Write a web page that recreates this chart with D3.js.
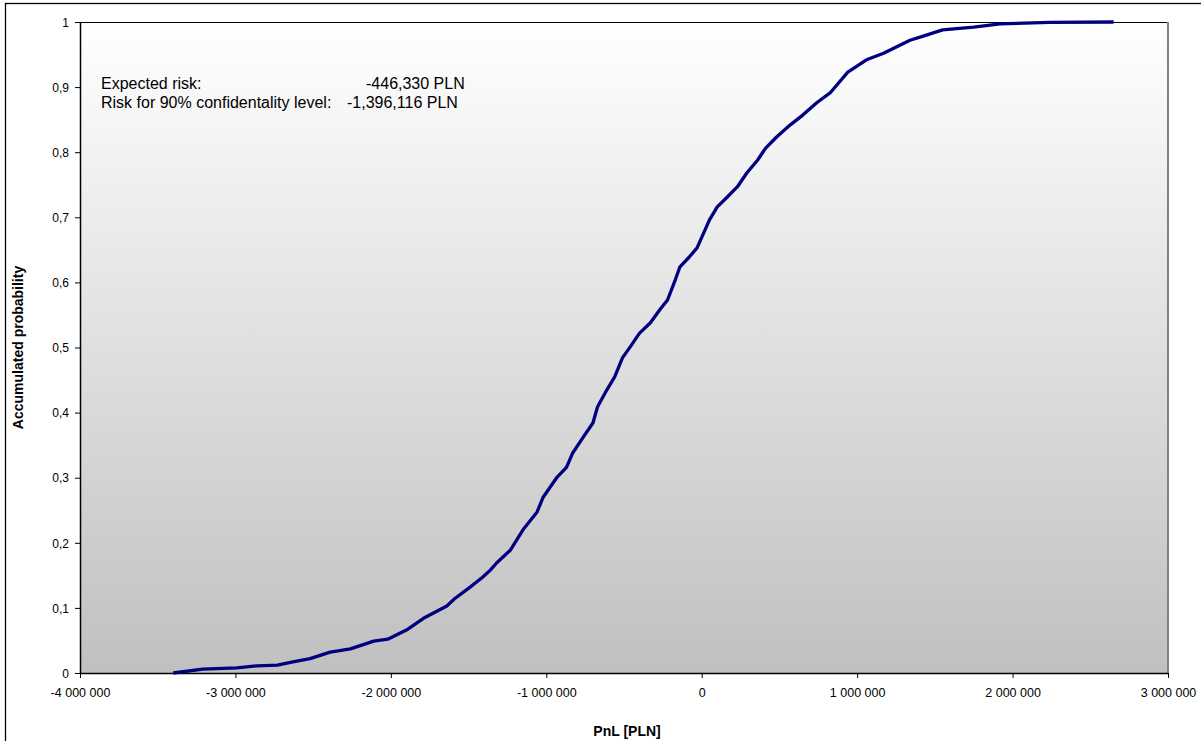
<!DOCTYPE html>
<html>
<head>
<meta charset="utf-8">
<script src="https://cdn.jsdelivr.net/npm/d3@7/dist/d3.min.js"></script>
<style>
  html, body { margin: 0; padding: 0; background: #fff; }
  svg { display: block; }
  text { font-family: "Liberation Sans", Arial, sans-serif; fill: #000; }
</style>
</head>
<body>
<svg id="chart" width="1201" height="741"></svg>
<script>
// PnL values (PLN) of the accumulated-probability curve
const pnl = [
  -3400000, -3210000, -2990000, -2860000, -2730000, -2630000, -2520000, -2390000,
  -2260000, -2110000, -2020000, -1900000, -1790000, -1640000, -1590000, -1490000,
  -1410000, -1360000, -1320000, -1230000, -1150000, -1060000, -1020000, -930000,
  -870000, -830000, -760000, -700000, -670000, -610000, -560000, -510000,
  -460000, -400000, -330000, -270000, -220000, -170000, -140000, -80000,
  -30000, 20000, 50000, 100000, 160000, 230000, 290000, 360000,
  410000, 480000, 570000, 650000, 740000, 830000, 940000, 1060000,
  1170000, 1340000, 1420000, 1550000, 1750000, 1920000, 2240000, 2650000
];
// accumulated probability at each PnL value
const prob = [
  0.000, 0.006, 0.008, 0.011, 0.012, 0.017, 0.022, 0.032,
  0.037, 0.049, 0.052, 0.066, 0.084, 0.103, 0.114, 0.132,
  0.147, 0.158, 0.169, 0.189, 0.220, 0.247, 0.270, 0.301,
  0.316, 0.338, 0.363, 0.384, 0.409, 0.435, 0.455, 0.484,
  0.501, 0.522, 0.538, 0.558, 0.573, 0.604, 0.624, 0.639,
  0.653, 0.680, 0.696, 0.716, 0.730, 0.747, 0.768, 0.788,
  0.806, 0.823, 0.842, 0.857, 0.876, 0.892, 0.923, 0.942,
  0.952, 0.972, 0.978, 0.988, 0.992, 0.997, 0.9995, 1.000
];
const xTicks = [-4000000, -3000000, -2000000, -1000000, 0, 1000000, 2000000, 3000000];
const xTickLabels = ["-4 000 000", "-3 000 000", "-2 000 000", "-1 000 000", "0", "1 000 000", "2 000 000", "3 000 000"];
const yTicks = [0, 0.1, 0.2, 0.3, 0.4, 0.5, 0.6, 0.7, 0.8, 0.9, 1];
const yTickLabels = ["0", "0,1", "0,2", "0,3", "0,4", "0,5", "0,6", "0,7", "0,8", "0,9", "1"];
const annotLabels = ["Expected risk:", "Risk for 90% confidentality level:"];
const annotValues = ["-446,330 PLN", "-1,396,116 PLN"];
const xTitle = "PnL [PLN]";
const yTitle = "Accumulated probability";

const data = pnl.map((v, i) => ({ x: v, p: prob[i] }));

const svg = d3.select("#chart");
const L = 80, R = 1168, T = 22, B = 673;

const x = d3.scaleLinear().domain([-4000000, 3000000]).range([L, R]);
const y = d3.scaleLinear().domain([0, 1]).range([B, T]);

// outer frame
svg.append("rect").attr("x", 5.5).attr("y", 3.5).attr("width", 1200).attr("height", 745)
  .attr("fill", "#fff").attr("stroke", "#000").attr("stroke-width", 1.3);

// gradient
const defs = svg.append("defs");
const grad = defs.append("linearGradient").attr("id", "bg").attr("x1", 0).attr("y1", 0).attr("x2", 0).attr("y2", 1);
grad.append("stop").attr("offset", "0%").attr("stop-color", "#ffffff");
grad.append("stop").attr("offset", "100%").attr("stop-color", "#c0c0c0");

svg.append("rect").attr("x", L).attr("y", T).attr("width", R - L).attr("height", B - T)
  .attr("fill", "url(#bg)");

// plot area border: top black, right gray
svg.append("line").attr("x1", L).attr("x2", R).attr("y1", T + 0.5).attr("y2", T + 0.5)
  .attr("stroke", "#000").attr("stroke-width", 1);
svg.append("line").attr("x1", R).attr("x2", R).attr("y1", T).attr("y2", B)
  .attr("stroke", "#808080").attr("stroke-width", 2);

// axes
const xAxis = d3.axisBottom(x).tickValues(xTicks).tickSize(5).tickSizeOuter(0)
  .tickFormat((d, i) => xTickLabels[i]);
const gx = svg.append("g").attr("transform", `translate(0,${B})`).call(xAxis);
gx.select(".domain").attr("stroke", "#000").attr("stroke-width", 1.5);
gx.selectAll(".tick line").attr("stroke", "#000");
gx.selectAll(".tick text").attr("font-size", "12.5px").attr("font-family", "Liberation Sans, Arial, sans-serif")
  .attr("fill", "#000").attr("dy", null).attr("y", 24);

const yAxis = d3.axisLeft(y).tickValues(yTicks).tickSize(5).tickSizeOuter(0)
  .tickFormat((d, i) => yTickLabels[i]);
const gy = svg.append("g").attr("transform", `translate(${L},0)`).call(yAxis);
gy.select(".domain").attr("stroke", "#000").attr("stroke-width", 1.5);
gy.selectAll(".tick line").attr("stroke", "#000");
gy.selectAll(".tick text").attr("font-size", "12px").attr("font-family", "Liberation Sans, Arial, sans-serif")
  .attr("fill", "#000").attr("x", -11).attr("dy", "0.35em");

// curve
const line = d3.line().x(d => x(d.x)).y(d => y(d.p));
svg.append("path").datum(data).attr("d", line)
  .attr("fill", "none").attr("stroke", "#000080").attr("stroke-width", 3.3)
  .attr("stroke-linejoin", "round");

// annotation
const annot = svg.append("g").attr("font-size", "16px");
annot.append("text").attr("x", 101).attr("y", 89).text(annotLabels[0]);
annot.append("text").attr("x", 366).attr("y", 89).text(annotValues[0]);
annot.append("text").attr("x", 101).attr("y", 108).text(annotLabels[1]);
annot.append("text").attr("x", 347).attr("y", 108).text(annotValues[1]);

// axis titles
svg.append("text").attr("x", (L + R) / 2 + 3).attr("y", 736).attr("text-anchor", "middle")
  .attr("font-size", "14px").attr("font-weight", "bold").text(xTitle);
svg.append("text").attr("transform", `translate(23,${(T + B) / 2}) rotate(-90)`)
  .attr("text-anchor", "middle").attr("font-size", "14px").attr("font-weight", "bold").text(yTitle);
</script>
</body>
</html>
